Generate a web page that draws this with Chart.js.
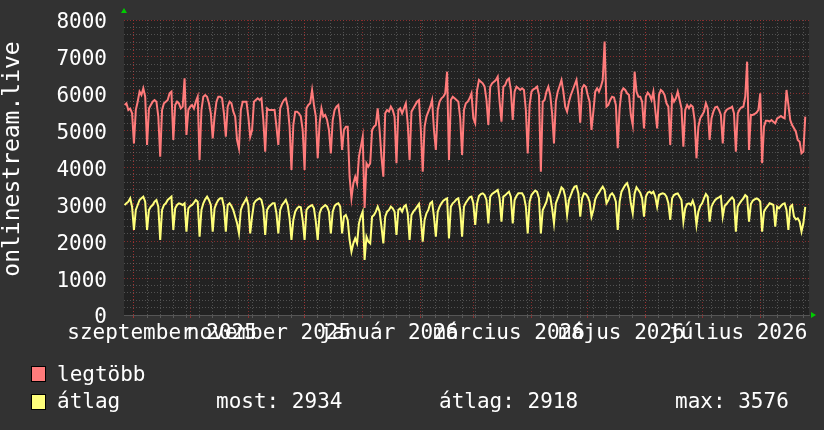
<!DOCTYPE html>
<html>
<head>
<meta charset="utf-8">
<script src="https://cdn.jsdelivr.net/npm/chart.js@4.4.1/dist/chart.umd.min.js"></script>
<style>
    html, body { margin: 0; padding: 0; background: #323232; }
    #wrap { position: relative; width: 824px; height: 430px; overflow: hidden; }
    #chart { position: absolute; left: 0; top: 0; }
    .lg { position: absolute; font-family: "DejaVu Sans Mono", monospace; font-size: 21px; line-height: 21px; color: #ffffff; white-space: pre; }
    .sw { position: absolute; width: 15px; height: 16px; box-sizing: border-box; border: 1px solid #000; }
</style>
</head>
<body>
<div id="wrap">
    <canvas id="chart" width="824" height="430"></canvas>
    <div class="sw" style="left:31px;top:366px;background:#ff7b7b"></div>
    <div class="lg" style="left:57px;top:364px">legtöbb</div>
    <div class="sw" style="left:31px;top:394px;background:#ffff7b"></div>
    <div class="lg" style="left:57px;top:391px">átlag</div>
    <div class="lg" style="left:216px;top:391px">most: 2934</div>
    <div class="lg" style="left:439px;top:391px">átlag: 2918</div>
    <div class="lg" style="left:675px;top:391px">max: 3576</div>
</div>
<script>
// napi értékek, az első elem 2025-08-27 (nap -5, 2025-09-01-hez képest)
const START_DAY = -5;

const legtobb = [
    5695, 5740, 5560, 5600, 5470,
    4655, 5560, 5785, 6057, 5966, 6147, 5920,
    4610, 5600, 5695, 5785, 5830, 5785, 5380,
    4295, 5560, 5740, 5785, 5830, 6010, 6057,
    4746, 5695, 5785, 5740, 5600, 5650, 6420,
    4880, 5560, 5650, 5695, 5600, 5785, 5920,
    4203, 5560, 5920, 5966, 5920, 5740, 5470,
    4790, 5380, 5785, 5920, 5920, 5875, 5470,
    4836, 5650, 5785, 5740, 5515, 5380, 4746,
    4520, 5560, 5785, 5785, 5785, 5380, 4836,
    5017, 5785, 5830, 5875, 5830, 5875, 5290,
    4430, 5605, 5560, 5560, 5560, 5560, 5107,
    4610, 5605, 5740, 5830, 5875, 5650, 5107,
    3932, 5153, 5515, 5515, 5470, 5380, 5017,
    3932, 5605, 5695, 5740, 6100, 5695, 5380,
    4249, 5198, 5605, 5380, 5424, 5288, 5017,
    4384, 5288, 5560, 5650, 5695, 5288, 4475,
    5017, 5107, 5107, 3751, 3164, 3570, 3751,
    3570, 4295, 4566, 4836, 2900, 4114, 4023,
    4114, 5017, 5107, 5153, 5605, 5017, 4295,
    3751, 5470, 5560, 5515, 5650, 5560, 5380,
    4114, 5560, 5605, 5470, 5605, 5740, 5198,
    4203, 5515, 5605, 5695, 5785, 5830, 5017,
    3887, 5107, 5380, 5515, 5650, 5830, 5017,
    4475, 5560, 5785, 5875, 5920, 6011, 6599,
    4203, 5830, 5920, 5875, 5830, 5785, 5333,
    4339, 5560, 5740, 5785, 5875, 6011, 5333,
    5198, 6102, 6373, 6328, 6283, 6192, 5830,
    5153, 6192, 6283, 6328, 6373, 6464, 5785,
    5243, 6192, 6237, 6373, 6418, 6102, 5288,
    6057, 6192, 6147, 6102, 6147, 6102, 5560,
    4384, 5695, 6057, 6120, 6147, 6192, 5966,
    3887, 5785, 5830, 6057, 6192, 5966, 5470,
    4655, 5785, 6057, 6210, 6373, 6057, 5650,
    5515, 5785, 5966, 6102, 6237, 6373, 5966,
    5216, 6147, 6237, 6192, 5966, 5785, 5017,
    5515, 6057, 6147, 6057, 6192, 6373, 7413,
    5650, 5695, 5830, 5920, 5900, 5695, 4520,
    5605, 6057, 6147, 6102, 6011, 5966, 5424,
    5153, 6599, 6057, 5920, 5920, 5785, 5062,
    5920, 6029, 5966, 5830, 6057, 5560, 5062,
    5966, 6102, 6057, 5966, 5740, 5650, 4610,
    5920, 5785, 5875, 6057, 5830, 5605, 4566,
    5560, 5695, 5605, 5695, 5650, 5288, 4249,
    5107, 5333, 5424, 5515, 5740, 5605, 4746,
    5333, 5515, 5632, 5650, 5560, 5424, 4655,
    5470, 5560, 5596, 5614, 5650, 5470, 4430,
    5470, 5578, 5632, 5650, 5920, 6870, 4475,
    5424, 5424, 5451, 5487, 5560, 6011, 4114,
    5107, 5270, 5270, 5243, 5288, 5243, 5198,
    5333, 5360, 5397, 5360, 5333, 6102, 5695,
    5288, 5153, 5062, 4972, 4746, 4700, 4384,
    4430, 5380
];

const atlag = [
    2983, 3029, 3074, 3164, 2938,
    2305, 2848, 2983, 3119, 3164, 3209, 3074,
    2305, 2848, 2938, 2983, 3074, 3119, 2938,
    2034, 2848, 2983, 3029, 3119, 3164, 3209,
    2305, 2893, 2983, 3029, 3010, 2983, 3029,
    2260, 2893, 2956, 2983, 3047, 3119, 3074,
    2124, 2848, 3029, 3137, 3209, 3119, 2983,
    2260, 2893, 3029, 3119, 3164, 3164, 2938,
    2260, 2983, 3029, 2956, 2848, 2667, 2486,
    2215, 2848, 2983, 3074, 3164, 2983, 2215,
    2667, 3029, 3101, 3137, 3164, 3119, 2893,
    2170, 2848, 2938, 2983, 3029, 3029, 2757,
    2215, 2848, 2983, 3047, 3119, 2983, 2621,
    2034, 2576, 2802, 2893, 2938, 2920, 2576,
    2034, 2848, 2920, 2956, 2983, 2893, 2531,
    2034, 2757, 2893, 2938, 2983, 2938, 2802,
    2215, 2802, 2956, 3010, 3029, 2938, 2215,
    2667, 2712, 2576, 2034, 1718, 1944, 2079,
    1944, 2486, 2667, 2802, 1491, 2124, 1989,
    1944, 2667, 2712, 2802, 2938, 2802, 2395,
    1944, 2667, 2802, 2848, 2938, 2893, 2802,
    2170, 2848, 2893, 2802, 2938, 2983, 2757,
    2034, 2712, 2802, 2866, 2938, 3010, 2621,
    1989, 2576, 2757, 2848, 3029, 3074, 2667,
    2124, 2802, 2938, 3029, 3101, 3137, 3164,
    2079, 2938, 3029, 3074, 3137, 3164, 2848,
    2124, 2938, 3047, 3119, 3191, 3209, 3029,
    2441, 3029, 3227, 3281, 3299, 3254, 3119,
    2486, 3209, 3281, 3317, 3354, 3390, 3164,
    2531, 3209, 3245, 3299, 3345, 3209, 2486,
    3119, 3227, 3299, 3299, 3299, 3209, 2938,
    2215, 3074, 3254, 3317, 3372, 3336, 3164,
    2215, 2848, 2956, 3074, 3299, 3209, 2893,
    2486, 3029, 3164, 3299, 3462, 3408, 3209,
    2712, 3119, 3254, 3390, 3480, 3498, 3299,
    2667, 3164, 3299, 3281, 3209, 3074, 2667,
    2848, 3137, 3254, 3317, 3408, 3480, 3390,
    3029, 3119, 3254, 3299, 3227, 3074, 2305,
    3074, 3345, 3435, 3525, 3576, 3408, 3029,
    2757, 3299, 3462, 3390, 3317, 3164, 2667,
    3209, 3317, 3345, 3299, 3345, 3209, 2938,
    3254, 3281, 3299, 3281, 3209, 3029, 2576,
    3164, 3254, 3281, 3299, 3209, 3119, 2531,
    2893, 3010, 3029, 2983, 3101, 2938, 2441,
    2802, 2956, 3029, 3164, 3281, 3209, 2531,
    2938, 3047, 3119, 3164, 3191, 3227, 2667,
    2956, 3010, 3074, 3137, 3191, 3119, 2260,
    2938, 3029, 3101, 3164, 3254, 3209, 2531,
    3010, 3101, 3137, 3164, 3137, 3074, 2260,
    2802, 2893, 2956, 3029, 3010, 2983, 2395,
    2938, 2893, 2956, 3010, 3029, 2848, 2305,
    2938, 2983, 2667, 2594, 2621, 2531, 2260,
    2486, 2934
];

// tengelyek
const X_MIN = -5.3;
const X_MAX = 360;
const yMajorTicks = [0, 1000, 2000, 3000, 4000, 5000, 6000, 7000, 8000];
const yMinorStep = 200;
const monthStarts = ['2025-09-01', '2025-10-01', '2025-11-01', '2025-12-01', '2026-01-01', '2026-02-01',
                     '2026-03-01', '2026-04-01', '2026-05-01', '2026-06-01', '2026-07-01', '2026-08-01'];
const xLabels = ['szeptember 2025', 'november 2025', 'január 2026', 'március 2026', 'május 2026', 'július 2026'];
const xLabelDates = ['2025-09-16', '2025-11-12', '2026-01-15', '2026-03-20', '2026-05-19', '2026-07-20'];

const BASE = Date.UTC(2025, 8, 1);
function dayOf(str) {
    const p = str.split('-').map(Number);
    return (Date.UTC(p[0], p[1] - 1, p[2]) - BASE) / 86400000;
}

const monthDays = monthStarts.map(dayOf);
const labelDays = xLabelDates.map(dayOf);
const weekDays = [];
for (let d = 0; d <= X_MAX; d += 7) weekDays.push(d);

const toPoints = arr => arr.map((v, i) => ({ x: START_DAY + i, y: v }));

const FONT = { family: '"DejaVu Sans Mono", monospace', size: 21 };
const GRID_MINOR = 'rgba(140,140,140,0.45)';
const GRID_MAJOR = 'rgba(170,50,50,0.75)';

// a Chart.js ne tolja el a rajzterületet a feliratok miatt
const noPad = s => { s.paddingTop = 0; s.paddingBottom = 0; s.paddingLeft = 0; s.paddingRight = 0; };

const backgroundPlugin = {
    id: 'rrdBackground',
    beforeDraw(chart) {
        const { ctx, chartArea: a } = chart;
        ctx.save();
        ctx.fillStyle = '#222222';
        ctx.fillRect(a.left, a.top, a.right - a.left, a.bottom - a.top);
        ctx.restore();
    },
    afterDraw(chart) {
        const { ctx, chartArea: a } = chart;
        ctx.save();
        // y tengely cím
        ctx.fillStyle = '#ffffff';
        ctx.font = '23px "DejaVu Sans Mono", monospace';
        ctx.textAlign = 'center';
        ctx.textBaseline = 'alphabetic';
        ctx.translate(19, 159);
        ctx.rotate(-Math.PI / 2);
        ctx.fillText('onlinestream.live', 0, 0);
        ctx.restore();

        // zöld nyilak a tengelyek végén
        ctx.save();
        ctx.fillStyle = '#00cc00';
        ctx.beginPath();
        ctx.moveTo(a.left - 3, a.top - 7);
        ctx.lineTo(a.left + 3, a.top - 7);
        ctx.lineTo(a.left, a.top - 12);
        ctx.closePath();
        ctx.fill();
        ctx.beginPath();
        ctx.moveTo(a.right + 2, a.bottom - 3);
        ctx.lineTo(a.right + 2, a.bottom + 3);
        ctx.lineTo(a.right + 7, a.bottom);
        ctx.closePath();
        ctx.fill();
        ctx.restore();
    }
};

new Chart(document.getElementById('chart'), {
    type: 'line',
    data: {
        datasets: [{
            label: 'legtöbb',
            data: toPoints(legtobb),
            borderColor: '#ff7b7b',
            borderWidth: 2,
            pointRadius: 0,
            tension: 0,
            xAxisID: 'x',
            yAxisID: 'y'
        }, {
            label: 'átlag',
            data: toPoints(atlag),
            borderColor: '#ffff7b',
            borderWidth: 2,
            pointRadius: 0,
            tension: 0,
            xAxisID: 'x',
            yAxisID: 'y'
        }]
    },
    options: {
        responsive: false,
        animation: false,
        devicePixelRatio: 1,
        layout: { padding: { top: 20, right: 15, bottom: 0, left: 0 } },
        plugins: { legend: { display: false }, tooltip: { enabled: false } },
        scales: {
            x: {
                type: 'linear',
                position: 'bottom',
                min: X_MIN,
                max: X_MAX,
                afterBuildTicks: s => {
                    s.ticks = weekDays.concat(monthDays).map(v => ({ value: v }));
                },
                afterFit: s => { s.height = 0; noPad(s); },
                ticks: { display: false },
                grid: {
                    color: c => monthDays.includes(c.tick.value) ? GRID_MAJOR : GRID_MINOR,
                    tickColor: c => monthDays.includes(c.tick.value) ? GRID_MAJOR : GRID_MINOR,
                    lineWidth: 1,
                    drawTicks: true,
                    tickLength: 3,
                    tickBorderDash: []
                },
                border: { display: true, color: '#555555', dash: [1, 2] }
            },
            xl: {
                type: 'linear',
                position: 'bottom',
                min: X_MIN,
                max: X_MAX,
                afterBuildTicks: s => {
                    s.ticks = labelDays.map(v => ({ value: v }));
                },
                afterFit: s => { s.height = 115; noPad(s); },
                ticks: {
                    autoSkip: false,
                    maxRotation: 0,
                    padding: -2,
                    color: '#ffffff',
                    font: FONT,
                    callback: (v, i) => xLabels[i]
                },
                grid: { display: false },
                border: { display: false }
            },
            y: {
                type: 'linear',
                position: 'left',
                min: 0,
                max: 8000,
                afterBuildTicks: s => {
                    const t = [];
                    for (let v = 0; v <= 8000; v += yMinorStep) t.push({ value: v });
                    s.ticks = t;
                },
                afterFit: s => { s.width = 124; noPad(s); },
                ticks: {
                    autoSkip: false,
                    padding: 17,
                    labelOffset: 3,
                    color: '#ffffff',
                    font: FONT,
                    callback: v => yMajorTicks.includes(v) ? String(v) : ''
                },
                grid: {
                    color: c => yMajorTicks.includes(c.tick.value) ? GRID_MAJOR : GRID_MINOR,
                    lineWidth: 1,
                    drawTicks: false
                },
                border: { display: false, dash: [1, 2] }
            }
        }
    },
    plugins: [backgroundPlugin]
});
</script>
</body>
</html>
